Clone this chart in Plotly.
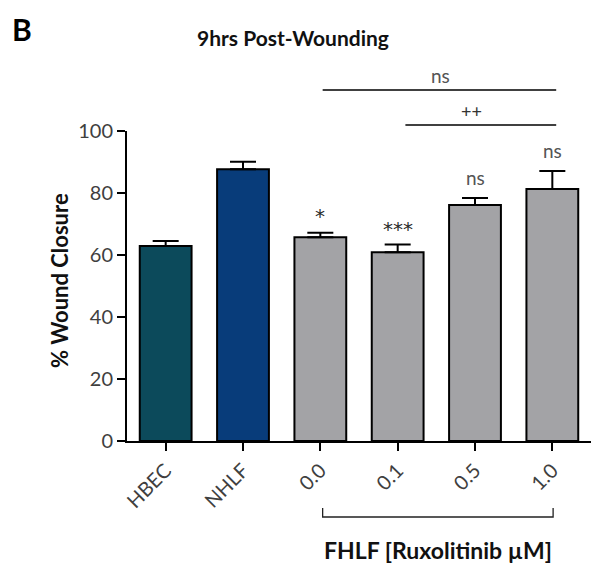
import plotly.graph_objects as go

# Wound-closure measurements, 9 h after scratch
groups = ["HBEC", "NHLF", "0.0", "0.1", "0.5", "1.0"]
closure_mean = [62.9, 87.7, 65.7, 60.9, 76.1, 81.3]
closure_sem = [1.6, 2.4, 1.5, 2.5, 2.3, 5.8]
bar_colors = ["#0c4a5b", "#083c7a", "#a3a3a6", "#a3a3a6", "#a3a3a6", "#a3a3a6"]
vs_nhlf = ["", "", "*", "***", "ns", "ns"]
y_ticks = [0, 20, 40, 60, 80, 100]

FONT = "Lato, 'Open Sans', sans-serif"
STAR_FONT = "'DejaVu Sans', sans-serif"
LABEL_GREY = "#3f3f3f"

fig = go.Figure()
fig.add_trace(go.Bar(
    x=groups,
    y=closure_mean,
    width=0.67,
    marker=dict(color=bar_colors, line=dict(color="black", width=2)),
    error_y=dict(type="data", symmetric=False, array=closure_sem,
                 arrayminus=[0] * len(groups), color="black",
                 thickness=2, width=13),
    hoverinfo="x+y",
))

# significance marks above each treated bar (vs NHLF)
annotations = []
for i, (m, s, mark) in enumerate(zip(closure_mean, closure_sem, vs_nhlf)):
    if not mark:
        continue
    if "*" in mark:
        annotations.append(dict(
            x=i, y=m + s, xref="x", yref="y", text=mark, showarrow=False,
            xanchor="center", yanchor="middle",
            yshift=17 if mark == "*" else 15,
            font=dict(family=STAR_FONT, size=20, color="#2a2a2a"),
        ))
    else:
        annotations.append(dict(
            x=i, y=m + s, xref="x", yref="y", text=mark, showarrow=False,
            xanchor="center", yanchor="bottom", yshift=7,
            font=dict(family=FONT, size=19, color="#555"),
        ))


def paper_y(px):
    """Convert a pixel row (from the top of the page) to paper units."""
    return (441 - px) / 310.0


def paper_x(px):
    return (px - 127) / 464.0


# brackets between treatment groups
shapes = [
    dict(type="line", xref="x", yref="paper", x0=2.03, x1=5.05,
         y0=paper_y(90), y1=paper_y(90), line=dict(color="black", width=1.5)),
    dict(type="line", xref="x", yref="paper", x0=3.1, x1=5.05,
         y0=paper_y(125), y1=paper_y(125), line=dict(color="black", width=1.5)),
    # FHLF group bracket under the tick labels
    dict(type="path", xref="x", yref="paper",
         path=f"M 2.03,{paper_y(508)} L 2.03,{paper_y(517)} "
              f"L 5.01,{paper_y(517)} L 5.01,{paper_y(508)}",
         line=dict(color="#222", width=1.3)),
]

common = dict(showarrow=False, xanchor="center", yanchor="middle")
annotations += [
    dict(x=3.55, y=paper_y(75), xref="x", yref="paper", text="ns",
         font=dict(family=FONT, size=19, color="#555"), **common),
    dict(x=3.95, y=paper_y(111), xref="x", yref="paper", text="++",
         font=dict(family=FONT, size=18, color="#333"), **common),
    dict(x=3.52, y=paper_y(550), xref="x", yref="paper",
         text="<b>FHLF [Ruxolitinib µM]</b>",
         font=dict(family=FONT, size=23, color="#111"), **common),
    dict(x=paper_x(293), y=paper_y(38), xref="paper", yref="paper",
         text="<b>9hrs Post-Wounding</b>",
         font=dict(family=FONT, size=21, color="#111"), **common),
    dict(x=paper_x(22), y=paper_y(29), xref="paper", yref="paper",
         text="<b>B</b>",
         font=dict(family=FONT, size=30, color="#000"), **common),
    dict(x=paper_x(59), y=paper_y(281), xref="paper", yref="paper",
         text="<b>% Wound Closure</b>", textangle=-90,
         font=dict(family=FONT, size=22, color="#111"), **common),
]

fig.update_layout(
    width=591, height=563,
    margin=dict(l=127, r=0, t=131, b=122, autoexpand=False),
    plot_bgcolor="white", paper_bgcolor="white",
    showlegend=False,
    shapes=shapes,
    annotations=annotations,
    xaxis=dict(type="category", range=[-0.5, 5.5], showline=True,
               linecolor="black", linewidth=2, ticks="outside", ticklen=8,
               tickwidth=2, tickcolor="black", tickangle=-45,
               tickfont=dict(family=FONT, size=20, color=LABEL_GREY),
               showgrid=False, zeroline=False),
    yaxis=dict(range=[0, 100], tickvals=y_ticks, showline=True,
               linecolor="black", linewidth=2, ticks="outside", ticklen=8,
               tickwidth=2, tickcolor="black",
               tickfont=dict(family=FONT, size=20, color=LABEL_GREY),
               showgrid=False, zeroline=False),
)

fig.write_html("out.html")
